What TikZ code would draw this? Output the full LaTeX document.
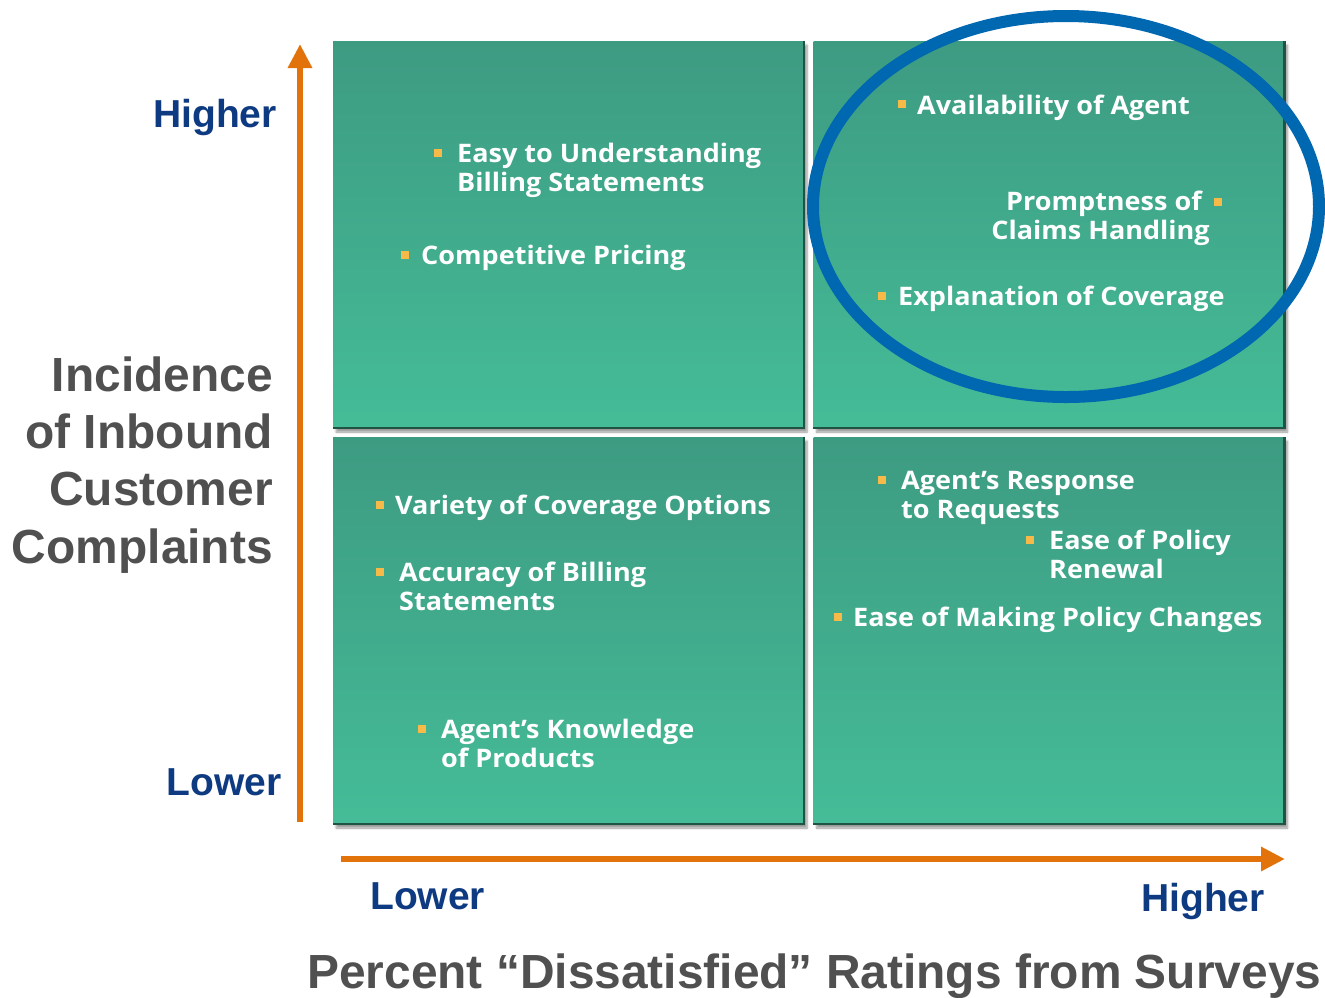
\documentclass[tikz,border=0pt]{standalone}
\usepackage{fontspec}
\setmainfont{Liberation Sans}
\newfontfamily\itemfont[FakeStretch=1.06]{Open Sans}
\usetikzlibrary{arrows.meta,shadows.blur}

\definecolor{quadtop}{HTML}{3D9B82}
\definecolor{quadbot}{HTML}{45BC97}
\definecolor{quadedge}{HTML}{1F5444}
\definecolor{axisorange}{HTML}{E2720A}
\definecolor{labelblue}{HTML}{0D3A80}
\definecolor{titlegray}{HTML}{505050}
\definecolor{bulletorange}{HTML}{F7BA48}
\definecolor{ringblue}{HTML}{0067B1}

\tikzset{
  quad/.style={rectangle, minimum width=471pt, minimum height=387pt, inner sep=0pt,
    top color=quadtop, bottom color=quadbot,
    blur shadow={shadow xshift=3pt, shadow yshift=-4pt, shadow blur steps=6, shadow opacity=40}},
  quadrim/.style={draw=quadedge, line width=2.5pt},
  axis/.style={draw=axisorange, line width=6.5pt, -{Triangle[width=23pt,length=24pt]}},
  level/.style={font=\bfseries\fontsize{39}{44}\selectfont, text=labelblue, inner sep=0pt},
  axistitle/.style={font=\bfseries\fontsize{47.9}{57.3}\selectfont, text=titlegray, inner sep=0pt},
  item/.style={font=\itemfont\bfseries\fontsize{25.5}{29}\selectfont, text=white, inner sep=0pt},
  sq/.style={rectangle, fill=bulletorange, minimum size=8pt, inner sep=0pt},
}

\begin{document}
\begin{tikzpicture}[x=1pt, y=-1pt]
\useasboundingbox (0,0) rectangle (1325,997);

% four quadrants
\node[quad] (tl) at (568.5,234.5) {};
\node[quad] (tr) at (1049,234.5) {};
\node[quad] (bl) at (568.5,630.5) {};
\node[quad] (br) at (1049,630.5) {};
\foreach \q in {tl,tr,bl,br}
  \draw[quadrim] (\q.north east) -- (\q.south east) -- (\q.south west);

% axes
\coordinate (ybot) at (300,822);
\coordinate (ytop) at (300,44);
\coordinate (xleft) at (341,859);
\coordinate (xright) at (1285,859);
\draw[axis] (ybot) -- (ytop);
\draw[axis] (xleft) -- (xright);

% axis level labels
\node[level, anchor=base east] (yhi) at (277,127) {Higher};
\node[level, anchor=base east] (ylo) at (282,795) {Lower};
\node[level, anchor=base west] (xlo) at (370,909) {Lower};
\node[level, anchor=base east] (xhi) at (1265,911) {Higher};

% axis titles (multi-line nodes sit on the baseline of their last line)
\node[axistitle, align=right, anchor=base east] (ytitle) at (273,563)
  {Incidence\\of Inbound\\Customer\\Complaints};
\node[axistitle, anchor=base west] (xtitle) at (307,988)
  {Percent “Dissatisfied” Ratings from Surveys};

% upper left
\node[sq] (b1) at (438,153) {};
\node[item, align=left, anchor=base west] (t1) at (457,191) {Easy to Understanding\\Billing Statements};
\node[sq] (b2) at (405,255) {};
\node[item, anchor=base west] (t2) at (421,264) {Competitive Pricing};

% upper right
\node[sq] (b3) at (902,104) {};
\node[item, anchor=base west] (t3) at (917,114) {Availability of Agent};
\node[sq] (b4) at (1218,202) {};
\node[item, align=right, anchor=base east] (t4) at (1210,239) {Promptness of\hspace*{8pt}\\Claims Handling};
\node[sq] (b5) at (882,296) {};
\node[item, anchor=base west] (t5) at (898,305) {Explanation of Coverage};

% lower left
\node[sq] (b6) at (380,505) {};
\node[item, anchor=base west] (t6) at (395,514) {Variety of Coverage Options};
\node[sq] (b7) at (380,572) {};
\node[item, align=left, anchor=base west] (t7) at (399,610) {Accuracy of Billing\\Statements};
\node[sq] (b8) at (422,729) {};
\node[item, align=left, anchor=base west] (t8) at (441,767) {Agent’s Knowledge\\of Products};

% lower right
\node[sq] (b9) at (882,480) {};
\node[item, align=left, anchor=base west] (t9) at (901,518) {Agent’s Response\\to Requests};
\node[sq] (b10) at (1030,540) {};
\node[item, align=left, anchor=base west] (t10) at (1049,578) {Ease of Policy\\Renewal};
\node[sq] (b11) at (838,617) {};
\node[item, anchor=base west] (t11) at (853,626) {Ease of Making Policy Changes};

% highlight ring round the upper right group
\draw[ringblue, line width=12pt] (1066,206.5) ellipse [x radius=253, y radius=190.5];
\end{tikzpicture}
\end{document}
